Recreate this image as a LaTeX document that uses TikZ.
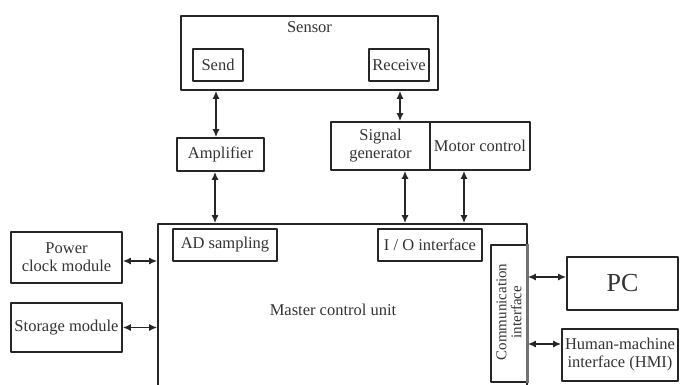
\documentclass[tikz,border=0pt]{standalone}
\usepackage{fontspec}
\setmainfont{Liberation Serif}
\usetikzlibrary{arrows.meta}
\begin{document}
\begin{tikzpicture}[x=1pt, y=-1pt, font=\fontsize{16.5}{18}\selectfont, line join=round, >={Latex[length=8pt,width=7pt]},
		box/.style={draw=black!85, line width=1.6pt, inner sep=0pt, text=black!80, align=center},
		link/.style={<->, draw=black!85, line width=1.6pt}]
	\clip (0,0) rectangle (680,385);
	% outer blocks
	\node[box, minimum width=257, minimum height=74] (sensor) at (309.5,53) {};
	\node[text=black!80] (sensorlbl) at (309.5,27) {Sensor};
	\node[box, minimum width=369, minimum height=180] (master) at (342.5,314) {};
	\node[text=black!80] (masterlbl) at (333,310) {Master control unit};
	% inner and side blocks: name/x/y/width/height/text
	\foreach \n/\x/\y/\w/\h/\t in {send/218/65/50/32/Send, recv/399/65/60/32/Receive,
			amp/220.5/154.5/87/33/Amplifier, siggen/380.5/146/99/48/{Signal\\generator},
			motor/480/146/100/48/{Motor control}, ad/225/245/104/32/{AD sampling},
			io/430/245/104/32/{I / O interface}, power/66.5/257.5/111/51/{Power\\clock module},
			storage/66.5/327.5/111/49/{Storage module}, hmi/620/355/116/52/{Human-machine\\interface (HMI)}}{
		\node[box, minimum width=\w, minimum height=\h] (\n) at (\x,\y) {\t};}
	\node[box, minimum width=111, minimum height=53, font=\fontsize{26}{28}\selectfont] (pc) at (622.5,283.5) {PC};
	\node[box, minimum width=36, minimum height=137] (comm) at (509,313.5) {};
	\node[text=black!80, rotate=90, align=center, font=\fontsize{15}{15}\selectfont] (commlbl) at (509,312) {Communication\\interface};
	\draw[black!55, line width=3pt] (comm.north east) -- (comm.south east);
	% connectors
	\draw[link] ([xshift=-4.5]amp.north) -- ([xshift=-4.5]amp.north |- sensor.south);
	\draw[link] ([xshift=-5.5]amp.south) -- ([xshift=-5.5]amp.south |- master.north);
	\draw[link] ([xshift=1]recv.south |- sensor.south) -- ([xshift=1]recv.south |- siggen.north);
	\draw[link] ([xshift=24.5]siggen.south) -- ([xshift=24.5]siggen.south |- master.north);
	\draw[link] ([xshift=-16]motor.south) -- ([xshift=-16]motor.south |- master.north);
	\draw[link] ([yshift=-3.5]power.east) -- ([yshift=-3.5]power.east -| master.west);
	\draw[link] (storage.east) -- (storage.east -| master.west);
	\draw[link] ([yshift=6.5]pc.west) -- ([yshift=6.5]pc.west -| comm.east);
	\draw[link] ([yshift=11]hmi.west) -- ([yshift=11]hmi.west -| comm.east);
\end{tikzpicture}
\end{document}
